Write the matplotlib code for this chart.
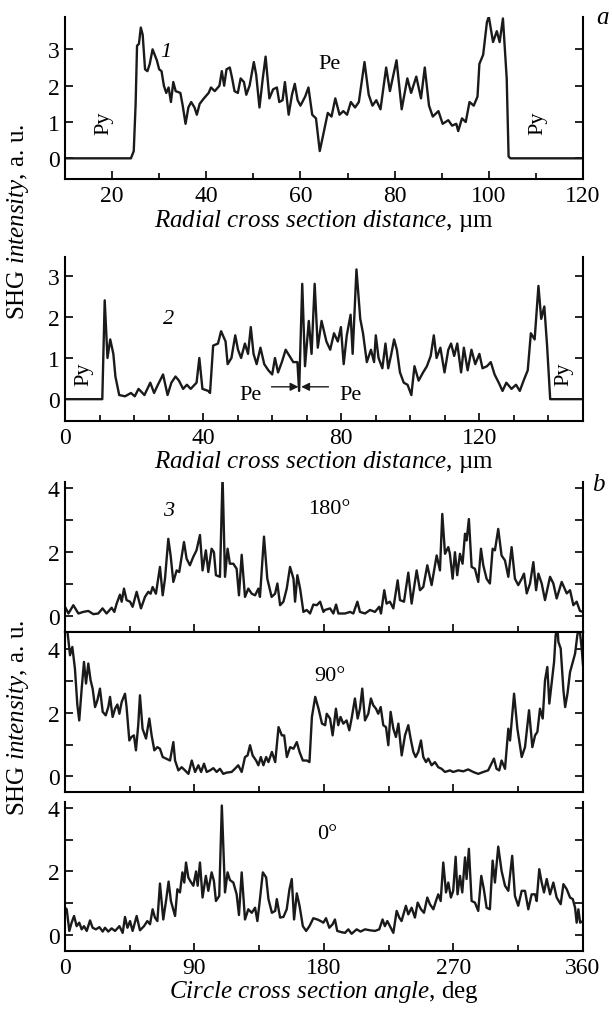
import numpy as np
import matplotlib
matplotlib.use('Agg')
import matplotlib.pyplot as plt
from matplotlib.ticker import MultipleLocator, FuncFormatter

plt.rcParams['font.family'] = 'Liberation Serif'
plt.rcParams['mathtext.fontset'] = 'custom'
plt.rcParams['mathtext.rm'] = 'Liberation Serif'
plt.rcParams['mathtext.it'] = 'Liberation Serif:italic'

# curve 1: radial cross section (panel a, top)
curve1 = [(10, 0), (24.0, 0), (24.6, 0.2), (25.0, 1.5), (25.3, 3.1), (25.7, 3.15), (26.1, 3.6), (26.5, 3.4),
          (27.0, 2.45), (27.5, 2.4), (28.0, 2.6), (28.6, 3.0), (29.5, 2.7), (30.0, 2.45), (30.5, 2.4),
          (31.0, 2.0), (31.5, 1.8), (32.0, 1.95), (32.5, 1.55), (33.0, 2.1), (33.5, 1.85), (34.5, 1.8),
          (35.0, 1.45), (35.6, 0.95), (36.2, 1.4), (36.8, 1.55), (37.5, 1.4), (38.0, 1.2), (38.6, 1.5),
          (39.5, 1.65), (40.5, 1.8), (41.0, 1.95), (41.8, 1.85), (42.8, 2.0), (43.3, 2.4), (43.8, 2.0),
          (44.3, 2.45), (45.0, 2.5), (45.5, 2.2), (46.0, 1.85), (46.7, 1.8), (47.3, 2.2), (48.0, 2.1),
          (48.5, 1.75), (49.2, 2.0), (50.1, 2.65), (50.6, 2.3), (51.3, 1.4), (52.0, 2.2), (52.6, 2.8),
          (53.4, 1.65), (54.2, 1.9), (55.0, 1.95), (55.5, 1.55), (56.2, 1.6), (56.7, 2.1), (57.5, 1.2),
          (58.2, 1.75), (58.8, 2.05), (59.4, 1.6), (60.0, 1.45), (61.0, 1.7), (61.7, 1.95), (62.5, 1.2),
          (63.3, 1.1), (64.1, 0.2), (65.0, 0.75), (65.8, 1.25), (66.6, 1.15), (67.4, 1.65), (68.3, 1.2),
          (69.1, 1.3), (69.9, 1.2), (70.7, 1.55), (71.6, 1.4), (72.4, 1.55), (73.6, 2.65), (74.5, 1.75),
          (75.3, 1.45), (76.1, 1.6), (77.0, 1.35), (78.2, 2.5), (79.0, 1.85), (80.4, 2.7), (81.5, 1.35),
          (82.7, 2.2), (83.5, 1.8), (84.6, 2.25), (85.6, 1.65), (86.4, 2.5), (87.3, 1.45), (88.1, 1.15),
          (89.3, 1.3), (90.2, 0.95), (91.4, 1.05), (92.2, 0.9), (93.1, 0.95), (93.5, 0.75), (94.3, 1.1),
          (95.1, 1.0), (95.9, 1.55), (96.8, 1.45), (97.6, 1.7), (98.0, 2.6), (98.8, 2.85), (99.6, 3.75),
          (100.0, 3.9), (100.9, 3.2), (101.7, 3.5), (102.3, 3.2), (103.0, 3.85), (103.8, 2.2),
          (104.2, 0.05), (104.6, 0), (120, 0)]

# curve 2: radial cross section (panel a, bottom)
curve2 = [(0, 0), (10.8, 0), (11.5, 2.4), (12.3, 1.0), (13.1, 1.45), (14.0, 1.1), (14.6, 0.55), (15.7, 0.1),
          (17.4, 0.07), (19.1, 0.15), (20.2, 0.07), (21.3, 0.25), (23.0, 0.1), (24.7, 0.4), (25.8, 0.15),
          (26.9, 0.35), (28.4, 0.6), (29.7, 0.1), (30.8, 0.4), (32.0, 0.55), (33.0, 0.45), (34.2, 0.25),
          (35.3, 0.35), (36.4, 0.25), (38.1, 0.4), (38.9, 1.0), (39.8, 0.25), (41.5, 0.2), (42.0, 0.15),
          (42.9, 1.3), (44.3, 1.35), (45.2, 1.65), (46.0, 1.5), (46.5, 1.4), (47.1, 0.85), (48.2, 1.0),
          (49.3, 1.55), (50.1, 1.2), (51.0, 1.0), (52.1, 1.35), (53.0, 1.1), (53.8, 1.75), (54.6, 1.1),
          (55.5, 0.85), (56.6, 1.25), (57.7, 0.85), (58.9, 0.7), (60.0, 0.6), (60.8, 1.0), (61.7, 0.65),
          (62.8, 0.9), (63.9, 1.2), (65.0, 1.05), (66.1, 0.9), (67.3, 0.9), (67.8, 0.2), (68.7, 2.8),
          (69.5, 0.8), (70.6, 1.9), (71.4, 1.1), (72.3, 2.8), (73.2, 1.25), (74.3, 1.9), (75.7, 1.4),
          (76.8, 1.2), (77.9, 1.6), (79.0, 1.4), (79.9, 1.75), (80.7, 0.85), (81.6, 1.55), (82.7, 2.05),
          (83.3, 1.1), (84.4, 3.15), (85.5, 1.95), (86.3, 1.6), (87.4, 0.9), (88.6, 1.2), (89.5, 0.9),
          (90.0, 1.55), (90.8, 1.0), (91.9, 0.75), (92.8, 1.35), (93.6, 0.75), (94.5, 1.1), (95.3, 1.45),
          (96.1, 1.2), (97.0, 0.65), (98.1, 0.4), (99.2, 0.35), (100.3, 0.1), (101.2, 0.8), (102.4, 0.45),
          (103.7, 0.65), (104.8, 0.8), (105.9, 1.05), (106.8, 1.55), (107.6, 1.0), (108.7, 1.25),
          (109.9, 0.65), (111.0, 1.2), (111.8, 1.35), (112.7, 1.05), (113.6, 1.35), (114.7, 0.65),
          (115.5, 1.25), (116.6, 0.7), (117.7, 1.2), (118.8, 0.85), (120.0, 1.1), (120.9, 0.75),
          (122.2, 0.8), (123.3, 0.9), (124.4, 0.6), (125.6, 0.4), (126.7, 0.2), (127.8, 0.4), (129.3, 0.25),
          (130.6, 0.35), (131.7, 0.2), (132.8, 0.45), (134.0, 0.7), (134.9, 1.6), (136.0, 1.45),
          (137.1, 2.75), (137.9, 1.95), (138.8, 2.25), (139.6, 1.3), (140.5, 0.0), (150, 0)]

# curve 3: circle cross section, 180 deg
curve_180 = [(0, 0.29), (2.4, 0.08), (5.8, 0.34), (9.3, 0.08), (12.7, 0.13), (16.2, 0.16), (19.7, 0.06),
             (23.1, 0.08), (26.1, 0.24), (28.9, 0.08), (32.4, 0.26), (34.3, 0.13), (35.9, 0.39), (38.2, 0.67),
             (39.4, 0.45), (41.0, 0.86), (42.8, 0.5), (45.2, 0.45), (47.0, 0.29), (49.8, 0.76), (52.8, 0.24),
             (55.6, 0.6), (57.9, 0.76), (59.5, 0.7), (60.9, 0.91), (63.2, 0.7), (66.0, 1.54), (67.9, 0.65),
             (69.5, 1.17), (71.8, 2.42), (73.4, 1.9), (75.3, 1.07), (77.6, 1.43), (79.4, 1.38), (82.7, 2.32),
             (84.5, 1.8), (86.8, 1.59), (89.1, 1.85), (91.4, 2.06), (93.8, 2.54), (95.6, 1.43), (97.9, 2.06),
             (99.6, 1.38), (101.9, 2.11), (103.5, 2.0), (104.9, 1.28), (107.7, 1.23), (109.5, 4.39),
             (111.2, 1.23), (113.0, 2.11), (114.6, 1.64), (117.0, 1.64), (119.3, 1.48), (120.9, 0.65),
             (122.8, 1.92), (125.1, 0.6), (127.4, 0.86), (129.8, 0.7), (132.1, 0.65), (134.4, 0.86),
             (135.5, 0.6), (138.3, 2.49), (140.6, 1.17), (143.6, 0.6), (146.0, 0.7), (147.6, 1.02),
             (149.5, 0.34), (151.8, 0.45), (154.1, 0.86), (156.4, 1.54), (158.8, 1.17), (159.9, 0.45),
             (161.5, 1.28), (163.4, 0.86), (165.7, 0.13), (168.0, 0.19), (170.3, 0.08), (172.6, 0.36),
             (175.0, 0.34), (177.3, 0.45), (179.6, 0.13), (180.7, 0.19), (184.2, 0.24), (186.5, 0.08),
             (188.4, 0.36), (190.0, 0.08), (194.6, 0.08), (198.1, 0.13), (200.4, 0.08), (203.2, 0.45),
             (205.0, 0.13), (208.5, 0.08), (212.0, 0.19), (215.4, 0.13), (218.4, 0.29), (219.6, 0.08),
             (221.9, 0.81), (223.5, 0.39), (225.8, 0.45), (228.2, 0.24), (231.2, 1.12), (232.8, 0.5),
             (235.6, 0.45), (238.6, 1.36), (240.9, 0.39), (244.4, 1.43), (246.7, 0.81), (249.0, 0.91),
             (251.8, 1.59), (254.8, 0.97), (258.3, 1.9), (260.6, 1.43), (262.2, 3.2), (264.1, 1.95),
             (266.4, 2.16), (267.5, 1.95), (269.4, 1.17), (271.0, 2.0), (272.6, 1.28), (274.5, 1.95),
             (276.3, 1.64), (278.0, 2.58), (279.1, 2.37), (280.7, 3.04), (282.6, 1.54), (284.9, 1.48),
             (287.2, 1.07), (289.1, 2.11), (290.7, 1.59), (293.0, 1.17), (295.3, 1.02), (297.2, 2.11),
             (298.8, 2.06), (301.1, 2.73), (303.4, 1.9), (305.8, 1.74), (308.1, 1.23), (310.4, 2.16),
             (312.7, 1.17), (315.0, 0.97), (317.4, 1.17), (319.0, 1.33), (320.9, 0.71), (323.2, 1.02),
             (325.5, 1.69), (327.4, 0.81), (329.0, 1.33), (331.3, 1.02), (333.6, 0.5), (337.1, 1.23),
             (339.4, 1.02), (341.7, 0.55), (345.2, 1.07), (348.7, 0.71), (351.0, 0.81), (353.3, 0.34),
             (355.6, 0.45), (357.9, 0.16), (360.0, 0.13)]

# circle cross section, 90 deg
curve_90 = [(0, 4.7), (1.6, 4.6), (3.5, 3.81), (5.1, 4.07), (6.9, 3.39), (8.6, 2.24), (9.9, 1.76), (11.6, 2.76),
            (13.2, 3.6), (14.6, 2.92), (16.2, 3.55), (17.8, 3.02), (19.2, 2.76), (20.9, 2.18), (22.5, 2.39),
            (24.3, 2.76), (26.2, 2.03), (28.3, 1.92), (30.1, 2.18), (31.3, 2.5), (33.1, 1.87), (34.8, 2.13),
            (36.4, 2.26), (37.8, 1.97), (39.4, 2.34), (41.7, 2.6), (42.8, 2.18), (44.7, 1.13), (46.2, 1.24),
            (47.9, 1.29), (49.3, 0.82), (50.9, 1.61), (52.1, 2.55), (53.9, 1.5), (56.3, 1.19), (58.6, 1.82),
            (60.2, 1.29), (62.1, 0.82), (64.2, 0.92), (66.0, 0.87), (67.9, 0.61), (70.2, 0.56), (73.0, 0.5),
            (75.3, 1.08), (76.5, 0.5), (78.8, 0.19), (81.1, 0.29), (83.4, 0.19), (85.8, 0.08), (88.1, 0.5),
            (90.4, 0.14), (92.7, 0.35), (94.6, 0.14), (96.6, 0.4), (98.5, 0.14), (100.8, 0.19), (103.1, 0.26),
            (105.4, 0.14), (107.7, 0.24), (110.0, 0.08), (112.4, 0.12), (115.8, 0.14), (118.1, 0.24),
            (120.4, 0.35), (122.8, 0.14), (125.1, 0.61), (126.9, 0.66), (128.6, 0.98), (130.4, 0.66),
            (132.8, 0.5), (134.4, 0.35), (136.1, 0.61), (137.9, 0.35), (139.8, 0.61), (141.4, 0.45),
            (143.8, 0.77), (146.1, 0.45), (148.4, 1.55), (150.7, 1.29), (152.3, 1.29), (154.2, 0.61),
            (156.5, 0.92), (158.8, 0.87), (161.1, 1.08), (163.0, 0.77), (165.3, 0.5), (168.1, 0.5),
            (169.9, 0.45), (171.6, 1.87), (173.9, 2.5), (176.2, 2.13), (178.6, 1.66), (180.8, 1.61),
            (181.9, 1.97), (184.2, 1.82), (186.0, 1.29), (188.3, 2.13), (189.9, 1.61), (191.5, 1.87),
            (193.4, 1.66), (195.7, 1.76), (197.6, 1.45), (199.2, 1.82), (201.5, 2.45), (203.4, 1.82),
            (205.0, 2.13), (206.6, 2.76), (208.5, 1.76), (210.8, 1.97), (212.6, 2.45), (214.2, 2.24),
            (216.1, 2.13), (217.7, 1.97), (219.4, 2.18), (221.2, 1.61), (223.1, 1.55), (224.7, 0.98),
            (226.3, 2.03), (228.2, 1.5), (230.0, 1.24), (231.7, 1.66), (234.0, 0.66), (236.3, 1.29),
            (238.6, 1.61), (240.2, 1.19), (242.1, 0.77), (243.7, 0.61), (245.5, 0.77), (247.4, 1.13),
            (249.0, 0.61), (250.9, 0.45), (252.5, 0.56), (254.8, 0.35), (257.1, 0.45), (259.4, 0.29),
            (261.7, 0.24), (264.1, 0.14), (267.5, 0.19), (269.8, 0.14), (273.3, 0.19), (276.8, 0.16),
            (280.2, 0.22), (283.7, 0.14), (287.2, 0.08), (290.7, 0.14), (294.1, 0.19), (296.4, 0.4),
            (298.1, 0.56), (299.9, 0.24), (301.8, 0.19), (303.4, 0.5), (305.8, 0.24), (308.1, 1.5),
            (309.3, 1.13), (310.4, 1.71), (312.1, 2.6), (314.4, 1.5), (317.4, 0.61), (319.7, 0.92),
            (322.5, 2.08), (324.8, 0.92), (326.7, 1.29), (328.3, 1.4), (330.1, 2.13), (332.0, 1.82),
            (333.6, 3.02), (335.2, 3.44), (336.6, 2.29), (338.2, 2.92), (339.9, 3.6), (341.0, 4.44),
            (342.2, 4.7), (342.9, 4.23), (344.5, 4.02), (346.4, 2.71), (347.6, 2.18), (349.2, 2.6),
            (351.0, 3.28), (352.9, 3.6), (354.5, 3.86), (356.1, 4.45), (357.5, 4.7), (359.1, 4.02),
            (360.0, 3.5)]

# circle cross section, 0 deg
curve_0 = [(0, 0.86), (1.2, 0.81), (3.0, 0.13), (4.6, 0.39), (6.3, 0.6), (8.1, 0.28), (9.9, 0.39), (11.6, 0.18),
           (13.2, 0.28), (15.1, 0.13), (17.4, 0.46), (19.2, 0.23), (21.5, 0.18), (23.9, 0.25), (26.2, 0.11),
           (27.8, 0.23), (30.1, 0.11), (32.4, 0.21), (34.8, 0.13), (37.8, 0.28), (40.1, 0.07), (41.7, 0.57),
           (43.4, 0.23), (45.2, 0.44), (47.0, 0.13), (49.8, 0.6), (52.1, 0.15), (54.9, 0.28), (57.2, 0.44),
           (59.1, 0.34), (60.9, 0.81), (62.5, 0.55), (64.2, 0.44), (66.0, 1.62), (68.3, 0.49), (70.2, 1.07),
           (72.0, 1.68), (73.6, 1.07), (76.5, 0.6), (78.1, 1.44), (79.9, 1.34), (81.6, 1.97), (82.9, 1.65),
           (84.1, 2.28), (85.7, 1.81), (87.3, 1.68), (89.2, 1.55), (91.1, 2.0), (92.2, 1.55), (93.8, 2.28),
           (95.6, 1.18), (97.9, 1.86), (99.6, 1.39), (101.9, 1.97), (103.5, 1.7), (104.9, 1.07),
           (107.2, 1.23), (109.0, 4.07), (111.2, 1.34), (113.0, 1.97), (114.6, 1.73), (117.0, 1.65),
           (119.3, 1.28), (120.9, 0.63), (122.8, 1.97), (125.1, 0.49), (127.4, 0.81), (129.8, 0.7),
           (132.1, 0.86), (133.7, 0.44), (135.1, 0.97), (137.5, 1.97), (139.8, 1.81), (141.4, 1.13),
           (143.8, 0.7), (146.1, 0.76), (147.2, 1.13), (149.5, 0.55), (151.8, 0.57), (154.1, 0.81),
           (156.0, 1.44), (157.6, 1.76), (159.2, 0.49), (161.1, 1.31), (163.0, 0.92), (165.3, 0.28),
           (167.6, 0.13), (169.9, 0.28), (172.6, 0.53), (175.4, 0.49), (177.7, 0.44), (179.6, 0.39),
           (181.4, 0.53), (183.7, 0.23), (186.0, 0.34), (187.6, 0.49), (189.2, 0.13), (192.2, 0.09),
           (194.6, 0.07), (196.9, 0.18), (199.2, 0.04), (202.7, 0.18), (205.4, 0.11), (208.5, 0.18),
           (212.0, 0.15), (215.4, 0.13), (218.4, 0.18), (220.7, 0.49), (222.3, 0.28), (224.0, 0.44),
           (225.8, 0.28), (228.2, 0.07), (230.5, 0.76), (232.3, 0.55), (233.9, 0.44), (236.9, 0.92),
           (238.6, 0.65), (240.9, 0.86), (243.2, 0.55), (245.1, 1.02), (247.4, 0.81), (249.5, 0.7),
           (251.8, 1.18), (253.6, 0.97), (256.0, 0.81), (257.8, 1.07), (259.4, 1.28), (261.1, 1.07),
           (262.9, 2.28), (264.8, 1.34), (266.4, 1.65), (268.2, 1.18), (269.8, 1.39), (271.5, 2.46),
           (272.8, 1.28), (274.5, 1.86), (276.1, 1.34), (278.0, 2.44), (279.1, 1.76), (280.7, 2.71),
           (282.6, 1.07), (284.9, 1.02), (287.2, 0.76), (289.3, 1.86), (291.1, 1.44), (293.0, 0.86),
           (295.3, 0.81), (297.2, 2.34), (298.8, 1.65), (301.1, 2.78), (303.4, 2.02), (305.8, 1.55),
           (308.1, 1.39), (310.8, 2.49), (312.7, 1.23), (315.0, 0.92), (317.4, 1.39), (319.7, 1.39),
           (322.0, 0.81), (324.3, 1.28), (326.7, 1.28), (327.8, 1.07), (329.6, 2.07), (331.3, 1.65),
           (332.9, 1.34), (334.8, 1.76), (337.1, 1.28), (339.4, 1.65), (341.7, 1.18), (344.5, 0.97),
           (346.4, 1.6), (348.7, 1.44), (351.0, 1.18), (352.9, 1.13), (354.5, 0.86), (355.6, 0.39),
           (356.8, 0.81), (358.0, 0.39), (360.0, 0.44)]

LW = 1.7
LC = '#1a1a1a'
TS = 17   # tick labels
AS = 16   # annotations
LS = 18   # axis labels

xlab_r = r'$\mathit{Radial\ cross\ section\ distance}$, µm'
xlab_c = r'$\mathit{Circle\ cross\ section\ angle}$, deg'
ylab = r'SHG $\mathit{intensity}$, a. u.'


def setup(ax, xlim, ylim, xmaj, xmin, ymaj, top_spine=False, xlabels=True):
    ax.set_xlim(*xlim)
    ax.set_ylim(*ylim)
    for s in ['left', 'right', 'bottom']:
        ax.spines[s].set_linewidth(1.5)
    ax.spines['top'].set_visible(top_spine)
    ax.spines['top'].set_linewidth(1.5)
    ax.xaxis.set_major_locator(MultipleLocator(xmaj))
    ax.xaxis.set_minor_locator(MultipleLocator(xmin))
    ax.yaxis.set_major_locator(MultipleLocator(ymaj))
    ax.tick_params(which='both', direction='in', right=True, top=False, width=1.2, labelsize=TS, pad=4)
    ax.tick_params(which='major', length=6)
    ax.tick_params(which='minor', length=4)
    if not xlabels:
        ax.tick_params(axis='x', labelbottom=False)


fig = plt.figure(figsize=(6.12, 10.12), dpi=100)

# panel a, curve 1
ax1 = fig.add_axes([0.1062, 0.8221, 0.8464, 0.1601])
x, y = np.array(curve1).T
ax1.plot(x, y, color=LC, lw=LW)
setup(ax1, (10, 120), (-0.57, 3.89), 20, 10, 1)
ax1.set_xlabel(xlab_r, fontsize=LS, labelpad=1)
ax1.text(18.3, 1.0, 'Py', rotation=90, ha='center', va='center', fontsize=AS)
ax1.text(110.4, 1.0, 'Py', rotation=90, ha='center', va='center', fontsize=AS)
ax1.text(66.2, 2.6, 'Pe', ha='center', va='center', fontsize=AS)
ax1.text(31.5, 2.95, '1', style='italic', ha='center', va='center', fontsize=AS)

# panel a, curve 2
ax2 = fig.add_axes([0.1062, 0.5830, 0.8464, 0.1620])
x, y = np.array(curve2).T
ax2.plot(x, y, color=LC, lw=LW)
setup(ax2, (0, 150), (-0.53, 3.45), 40, 10, 1)
ax2.set_xlabel(xlab_r, fontsize=LS, labelpad=0)
ax2.text(5.4, 0.64, 'Py', rotation=90, ha='center', va='center', fontsize=AS)
ax2.text(144.4, 0.64, 'Py', rotation=90, ha='center', va='center', fontsize=AS)
ax2.text(53.8, 0.11, 'Pe', ha='center', va='center', fontsize=AS)
ax2.text(82.7, 0.11, 'Pe', ha='center', va='center', fontsize=AS)
ax2.text(30, 1.97, '2', style='italic', ha='center', va='center', fontsize=AS)
arr = dict(arrowstyle='-|>', color=LC, lw=1.0, mutation_scale=12, shrinkA=0, shrinkB=0)
ax2.annotate('', xy=(67.6, 0.3), xytext=(59.8, 0.3), arrowprops=arr)
ax2.annotate('', xy=(68.4, 0.3), xytext=(76.3, 0.3), arrowprops=arr)

even_fmt = FuncFormatter(lambda v, p: '%d' % round(v) if round(v) % 2 == 0 else '')

# panel b, 180 deg
ax3 = fig.add_axes([0.1062, 0.3745, 0.8464, 0.1482])
x, y = np.array(curve_180).T
ax3.plot(x, y, color=LC, lw=LW)
setup(ax3, (0, 360), (-0.5, 4.2), 90, 45, 1, xlabels=False)
ax3.yaxis.set_major_formatter(even_fmt)
ax3.text(184, 3.37, '180°', ha='center', va='center', fontsize=AS)
ax3.text(72, 3.32, '3', style='italic', ha='center', va='center', fontsize=AS)

# panel b, 90 deg
ax4 = fig.add_axes([0.1062, 0.2164, 0.8464, 0.1581])
x, y = np.array(curve_90).T
ax4.plot(x, y, color=LC, lw=LW)
setup(ax4, (0, 360), (-0.49, 4.54), 90, 45, 1, top_spine=True, xlabels=False)
ax4.yaxis.set_major_formatter(even_fmt)
ax4.text(184, 3.17, '90°', ha='center', va='center', fontsize=AS)

# panel b, 0 deg
ax5 = fig.add_axes([0.1062, 0.0593, 0.8464, 0.1472])
x, y = np.array(curve_0).T
ax5.plot(x, y, color=LC, lw=LW)
setup(ax5, (0, 360), (-0.5, 4.18), 90, 45, 1)
ax5.yaxis.set_major_formatter(even_fmt)
ax5.text(182, 3.2, '0°', ha='center', va='center', fontsize=AS)
ax5.set_xlabel(xlab_c, fontsize=LS, labelpad=0)

fig.text(0.03, 1 - 222 / 1012, ylab, rotation=90, ha='center', va='center', fontsize=LS)
fig.text(0.03, 1 - 718 / 1012, ylab, rotation=90, ha='center', va='center', fontsize=LS)
fig.text(0.985, 1 - 18 / 1012, 'a', style='italic', ha='center', va='center', fontsize=LS)
fig.text(0.977, 1 - 485 / 1012, 'b', style='italic', ha='center', va='center', fontsize=LS)

fig.savefig('out.png', dpi=100)
